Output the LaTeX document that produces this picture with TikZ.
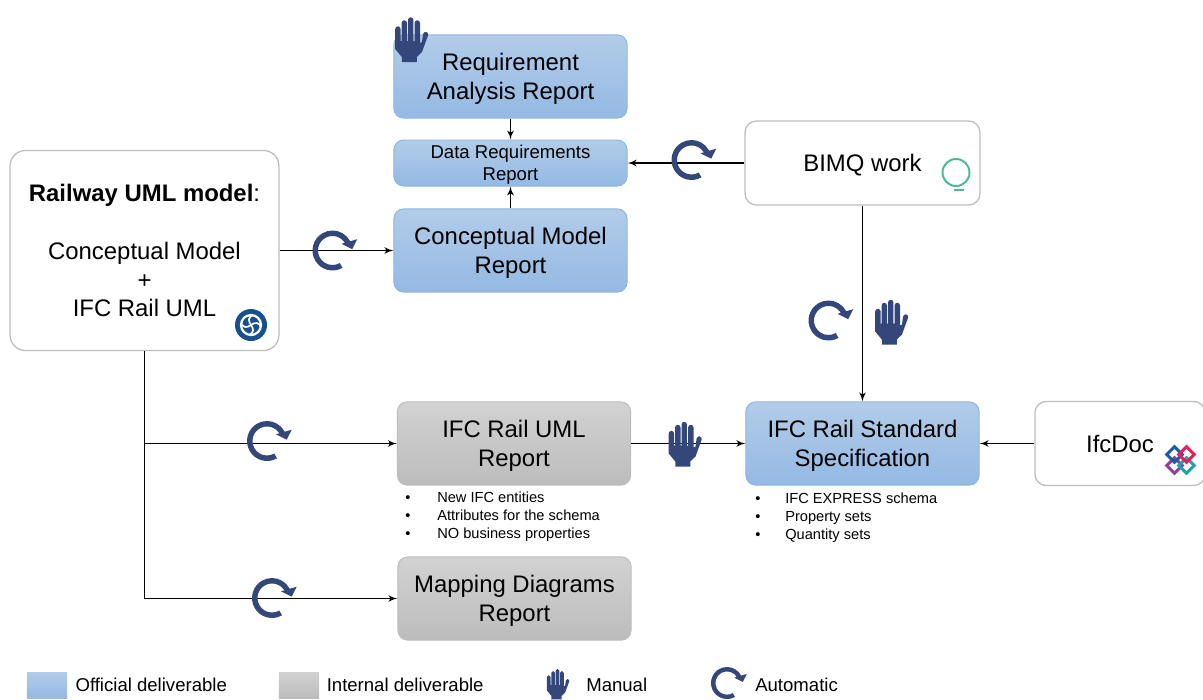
\documentclass[tikz,border=0pt]{standalone}
\usepackage{fontspec}
\setmainfont{Liberation Sans}
\usetikzlibrary{positioning,arrows,calc}
\definecolor{iconblue}{HTML}{34477A}
\definecolor{officialtop}{HTML}{B2CCE9}
\definecolor{officialbot}{HTML}{94B9E3}
\definecolor{officialline}{HTML}{8FB6E2}
\definecolor{internaltop}{HTML}{D2D2D2}
\definecolor{internalbot}{HTML}{BCBCBC}
\definecolor{boxline}{HTML}{BDBDBD}
\definecolor{logoblue}{HTML}{17508C}
\definecolor{logogreen}{HTML}{4DB89A}
\definecolor{linkblue}{HTML}{1D5BA8}
\definecolor{linkred}{HTML}{DD2357}
\definecolor{linkpurple}{HTML}{923F98}
\definecolor{linkteal}{HTML}{1FA2AE}
\tikzset{
    official/.style = {
        draw=officialline,
        shape=rectangle,
        top color=officialtop,
        bottom color=officialbot,
        minimum height=2.08cm,
        minimum width=5.83cm,
        rounded corners=7pt,
        inner sep=0pt,
        line width=0.7pt,
        align=center,
        text depth=0pt,
        font=\fontsize{17}{20.6}\selectfont
    },
    internal/.style = {
        official,
        draw=boxline,
        top color=internaltop,
        bottom color=internalbot
    },
    source/.style = {
        draw=boxline,
        fill=white,
        shape=rectangle,
        minimum height=2.1cm,
        minimum width=5.87cm,
        rounded corners=8pt,
        inner sep=0pt,
        line width=.9pt,
        align=center,
        font=\fontsize{17}{20.6}\selectfont
    },
    swatch/.style = {
        shape=rectangle,
        minimum height=.65cm,
        minimum width=1cm,
        inner sep=0pt
    },
    legendtext/.style = {
        anchor=west,
        inner sep=0pt,
        font=\fontsize{13.2}{15.6}\selectfont
    },
    notes/.style = {
        anchor=north west,
        inner sep=0pt,
        font=\fontsize{10.4}{12.8}\selectfont
    },
    link/.style = {
        draw,
        ->,
        line width=1.2pt
    },
    handicon/.pic = {
        \fill[iconblue,x=.025cm,y=.025cm]
            (-16.3,9) arc (180:0:2.7) -- (-10.9,-3) -- (-9.9,-3) -- (-9.9,15) arc (180:0:2.7)
            -- (-4.5,-3) -- (-3.5,-3) -- (-3.5,18) arc (180:0:2.7) -- (1.9,-3) -- (3.1,-3)
            -- (3.1,15) arc (180:0:2.7) -- (8.5,-5) -- (10.5,-4) -- (11.6,4) arc (170:-10:2.6)
            -- (10.5,-14) -- (5.3,-19) -- (5.3,-24) -- (-9.7,-24) -- (-9.7,-19) -- (-16.3,-11) -- cycle;
    },
    cycleicon/.pic = {
        \fill[iconblue,x=.025cm,y=.025cm]
            (-60:20) arc (-60:-332:20) -- (-332:14.5) arc (-332:-60:14.5) -- cycle
            (24.7,11.3) -- (19.7,1.3) -- (9,6.7) -- cycle;
    },
    orchidlogo/.pic = {
        \fill[logoblue,x=.025cm,y=.025cm] (0,0) circle (16);
        \draw[white,line width=1.6pt,x=.025cm,y=.025cm] (0,0) circle (10);
        \foreach \ang in {0,90,180,270} {
            \draw[white,line width=1.2pt,x=.025cm,y=.025cm,rotate=\ang]
                (0,0) .. controls (4,3) and (8,3) .. (10,-2);
        }
    },
    ringlogo/.pic = {
        \draw[logogreen,line width=1.4pt,x=.025cm,y=.025cm] (0,0) circle (13.5);
        \draw[logogreen,line width=1.6pt,x=.025cm,y=.025cm] (-2,-17.5) -- (8,-17.5);
    },
    linkslogo/.pic = {
        \draw[linkpurple,line width=2.1pt,x=.025cm,y=.025cm,shift={(-6,-5.5)},rotate=45] (-5.5,-5.5) rectangle (5.5,5.5);
        \draw[linkteal,line width=2.1pt,x=.025cm,y=.025cm,shift={(6,-5.5)},rotate=45] (-5.5,-5.5) rectangle (5.5,5.5);
        \draw[linkblue,line width=2.1pt,x=.025cm,y=.025cm,shift={(-6,5.5)},rotate=45] (-5.5,-5.5) rectangle (5.5,5.5);
        \draw[linkred,line width=2.1pt,x=.025cm,y=.025cm,shift={(6,5.5)},rotate=45] (-5.5,-5.5) rectangle (5.5,5.5);
    },
    >=latex',
}

\begin{document}
\begin{tikzpicture}[x=.025cm,y=-.025cm]
    \path[use as bounding box,clip] (0,0) rectangle (1203,699);

    \node[official] (reqreport) at (510.5,76.5) {Requirement\\Analysis Report};
    \node[official,minimum height=1.15cm,font=\fontsize{13.2}{15.6}\selectfont] (datareport) at (510.5,163) {Data Requirements\\Report};
    \node[official] (conceptreport) at (510.5,250.5) {Conceptual Model\\Report};
    \node[source,text depth=0pt] (bimq) at (862.5,163) {BIMQ work};
    \node[source,minimum width=6.72cm,minimum height=5cm,rounded corners=11pt] (umlmodel) at (144.5,250.5)
        {\textbf{Railway UML model}:\\[20.6pt]Conceptual Model\\+\\IFC Rail UML};
    \node[internal] (umlreport) at (514,443.5) {IFC Rail UML\\Report};
    \node[internal] (mapping) at (514.5,598.5) {Mapping Diagrams\\Report};
    \node[official] (standard) at (862.5,443.5) {IFC Rail Standard\\Specification};
    \node[source,minimum width=4.25cm] (ifcdoc) at (1120,443.5) {IfcDoc};

    \node[notes] (umlnotes) at (405,490) {%
        \begin{tabular}{@{}p{.8cm}@{}l@{}}
            • & New IFC entities\\
            • & Attributes for the schema\\
            • & NO business properties
        \end{tabular}};
    \node[notes] (standardnotes) at (755,491) {%
        \begin{tabular}{@{}p{.75cm}@{}l@{}}
            • & IFC EXPRESS schema\\
            • & Property sets\\
            • & Quantity sets
        \end{tabular}};

    \path[link] (reqreport.south) -- (datareport.north);
    \path[link] (conceptreport.north) -- (datareport.south);
    \path[link] (bimq.west) -- (datareport.east);
    \path[link] (umlmodel.east) -- (conceptreport.west);
    \path[link] (bimq.south) -- (standard.north);
    \path[link] (ifcdoc.west) -- (standard.east);
    \path[link] (umlreport.east) -- (standard.west);
    \path[link] (umlmodel.south) |- (umlreport.west);
    \path[link] (umlmodel.south) |- (mapping.west);

    \pic at (411.5,38) {handicon};
    \pic at (691.5,160) {cycleicon};
    \pic at (332.5,250.5) {cycleicon};
    \pic at (828.5,320.5) {cycleicon};
    \pic at (891.5,320.5) {handicon};
    \pic at (685,442.5) {handicon};
    \pic at (267,441) {cycleicon};
    \pic at (272,598) {cycleicon};

    \pic at (251,325) {orchidlogo};
    \pic at (956,172.5) {ringlogo};
    \pic at (1180.5,460) {linkslogo};

    \node[swatch,top color=officialtop,bottom color=officialbot] (officialswatch) at (47,685) {};
    \node[legendtext,right=.2cm of officialswatch] (officiallabel) {Official deliverable};
    \node[swatch,top color=internaltop,bottom color=internalbot] (internalswatch) at (299,685) {};
    \node[legendtext,right=.18cm of internalswatch] (internallabel) {Internal deliverable};
    \pic[scale=.68] at (558,683) {handicon};
    \node[legendtext] (manuallabel) at (586,685) {Manual};
    \pic[scale=.8] at (727,683) {cycleicon};
    \node[legendtext] (automaticlabel) at (755,685) {Automatic};
\end{tikzpicture}
\end{document}
